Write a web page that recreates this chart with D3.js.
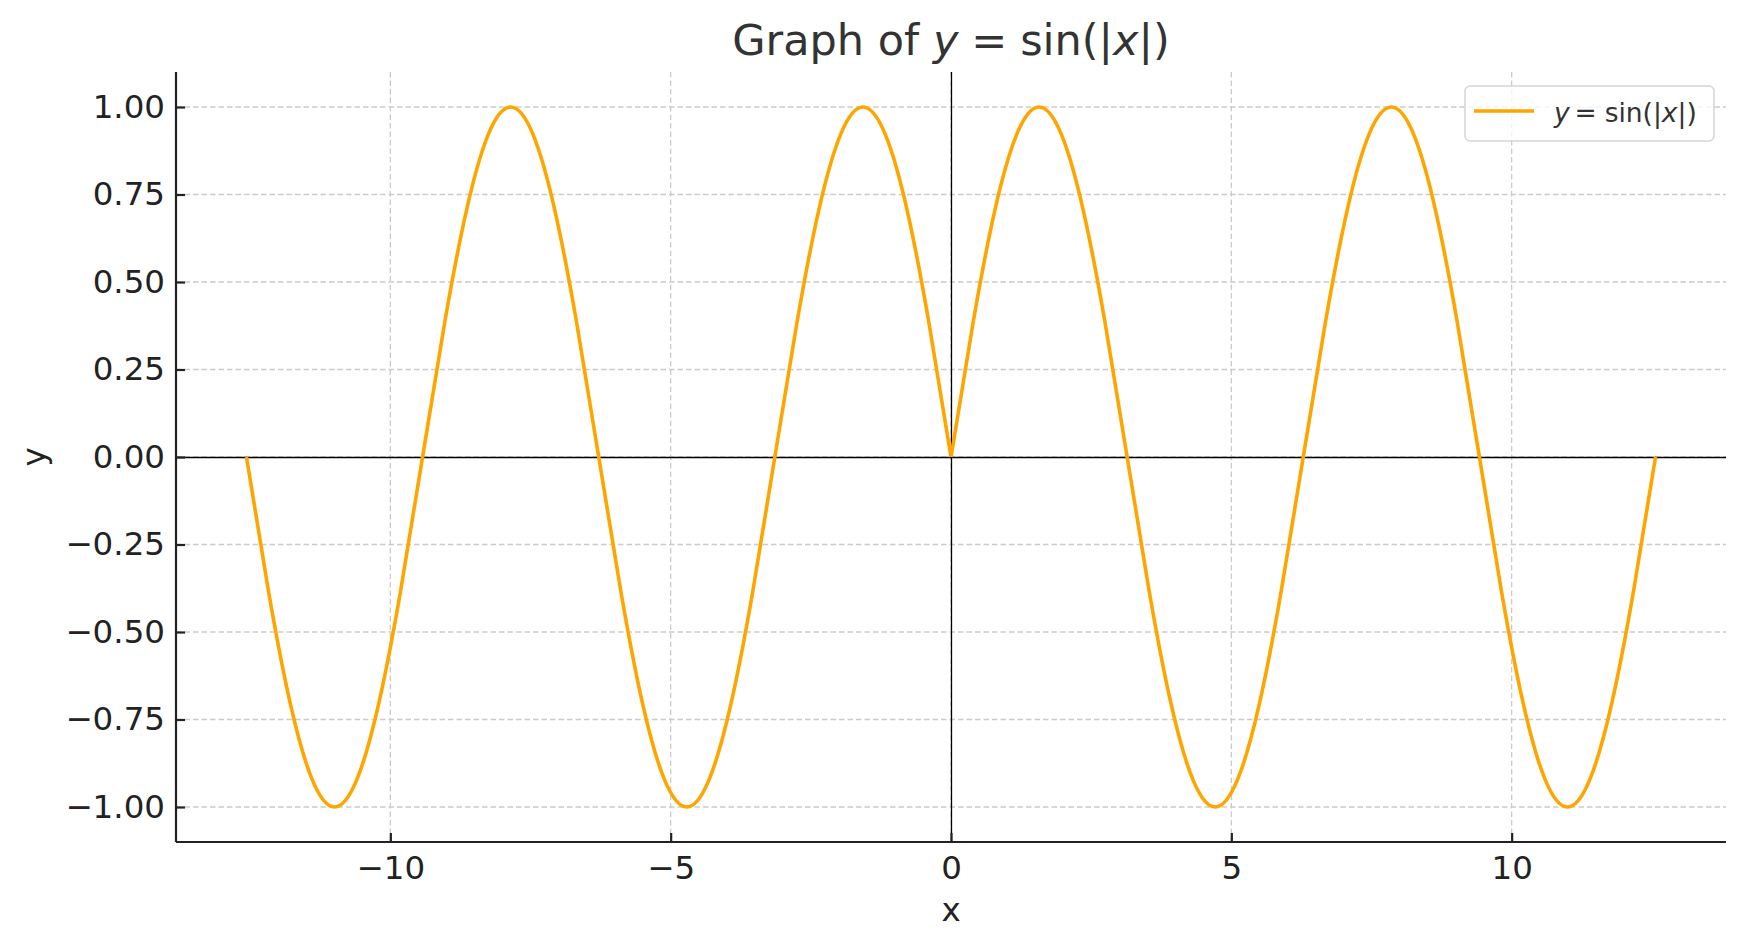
<!DOCTYPE html>
<html>
<head>
<meta charset="utf-8">
<script src="https://cdn.jsdelivr.net/npm/d3@7"></script>
<style>
  html, body { margin: 0; padding: 0; background: #fff; }
  svg { display: block; }
  text { font-family: "DejaVu Sans", sans-serif; }
</style>
</head>
<body>
<svg id="chart" width="1746" height="949"></svg>
<script>
// ---- data ----
const xValues = [
  -12.566, -12.174, -11.781, -11.388, -10.996, -10.603, -10.210, -9.817, -9.425, -9.032, -8.639,
  -8.247, -7.854, -7.461, -7.069, -6.676, -6.283, -5.890, -5.498, -5.105, -4.712, -4.320,
  -3.927, -3.534, -3.142, -2.749, -2.356, -1.963, -1.571, -1.178, -0.785, -0.393,
  0,
  0.393, 0.785, 1.178, 1.571, 1.963, 2.356, 2.749, 3.142, 3.534, 3.927, 4.320,
  4.712, 5.105, 5.498, 5.890, 6.283, 6.676, 7.069, 7.461, 7.854, 8.247, 8.639,
  9.032, 9.425, 9.817, 10.210, 10.603, 10.996, 11.388, 11.781, 12.174, 12.566
];
const yValues = [
  0, -0.383, -0.707, -0.924, -1.000, -0.924, -0.707, -0.383, 0, 0.383, 0.707,
  0.924, 1.000, 0.924, 0.707, 0.383, 0, -0.383, -0.707, -0.924, -1.000, -0.924,
  -0.707, -0.383, 0, 0.383, 0.707, 0.924, 1.000, 0.924, 0.707, 0.383,
  0,
  0.383, 0.707, 0.924, 1.000, 0.924, 0.707, 0.383, 0, -0.383, -0.707, -0.924,
  -1.000, -0.924, -0.707, -0.383, 0, 0.383, 0.707, 0.924, 1.000, 0.924, 0.707,
  0.383, 0, -0.383, -0.707, -0.924, -1.000, -0.924, -0.707, -0.383, 0
];
const xTicks = [-10, -5, 0, 5, 10];
const xTickLabels = ["\u221210", "\u22125", "0", "5", "10"];
const yTicks = [-1.00, -0.75, -0.50, -0.25, 0.00, 0.25, 0.50, 0.75, 1.00];
const yTickLabels = ["\u22121.00", "\u22120.75", "\u22120.50", "\u22120.25", "0.00", "0.25", "0.50", "0.75", "1.00"];
const xDomain = [-13.823, 13.823];
const yDomain = [-1.1, 1.1];

// ---- layout ----
const M = { left: 176, right: 1726, top: 72, bottom: 842 };
const svg = d3.select("#chart");
const x = d3.scaleLinear().domain(xDomain).range([M.left, M.right]);
const y = d3.scaleLinear().domain(yDomain).range([M.bottom, M.top]);

const ORANGE = "#FFA500";
const GRID = "#cbcbcb";
const INK = "#222222";

// grid
const grid = svg.append("g");
grid.selectAll("line.gx").data(xTicks).join("line")
  .attr("x1", d => x(d)).attr("x2", d => x(d))
  .attr("y1", M.top).attr("y2", M.bottom)
  .attr("stroke", GRID).attr("stroke-width", 1.3).attr("stroke-dasharray", "5.5,3");
grid.selectAll("line.gy").data(yTicks).join("line")
  .attr("x1", M.left).attr("x2", M.right)
  .attr("y1", d => y(d)).attr("y2", d => y(d))
  .attr("stroke", GRID).attr("stroke-width", 1.3).attr("stroke-dasharray", "5.5,3");

// zero lines
svg.append("line").attr("x1", M.left).attr("x2", M.right)
  .attr("y1", Math.round(y(0)) + 0.5).attr("y2", Math.round(y(0)) + 0.5)
  .attr("stroke", "#000").attr("stroke-width", 1.3);
svg.append("line").attr("x1", Math.round(x(0)) + 0.5).attr("x2", Math.round(x(0)) + 0.5)
  .attr("y1", M.top).attr("y2", M.bottom).attr("stroke", "#000").attr("stroke-width", 1.3);

// curve: two branches meeting at the cusp x = 0
const pts = xValues.map((v, i) => [v, yValues[i]]);
const left = pts.filter(p => p[0] <= 0);
const right = pts.filter(p => p[0] >= 0);
const line = d3.line().x(d => x(d[0])).y(d => y(d[1])).curve(d3.curveNatural);
[left, right].forEach(branch => {
  svg.append("path").datum(branch).attr("d", line)
    .attr("fill", "none").attr("stroke", ORANGE).attr("stroke-width", 3.6)
    .attr("stroke-linejoin", "round").attr("stroke-linecap", "butt");
});

// axes with inward ticks
const xAxis = d3.axisBottom(x).tickValues(xTicks).tickSize(-9).tickPadding(13)
  .tickFormat((d, i) => xTickLabels[i]);
const yAxis = d3.axisLeft(y).tickValues(yTicks).tickSize(-9).tickPadding(11)
  .tickFormat((d, i) => yTickLabels[i]);

const gx = svg.append("g").attr("transform", `translate(0,${M.bottom})`).call(xAxis);
const gy = svg.append("g").attr("transform", `translate(${M.left},0)`).call(yAxis);
[gx, gy].forEach(g => {
  g.select(".domain").attr("stroke", INK).attr("stroke-width", 2.2);
  g.selectAll(".tick line").attr("stroke", INK).attr("stroke-width", 2.2);
  g.selectAll(".tick text").attr("fill", INK)
    .style("font-family", "'DejaVu Sans', sans-serif").style("font-size", "32.5px");
});
gx.select(".domain").attr("d", `M${M.left},0H${M.right}`);
gy.select(".domain").attr("d", `M0,${M.bottom}V${M.top}`);
gx.selectAll(".tick text").attr("dy", "0.75em");

// axis labels
svg.append("text").attr("x", (M.left + M.right) / 2).attr("y", 921)
  .attr("text-anchor", "middle").attr("fill", INK).style("font-size", "32.5px").text("x");
svg.append("text").attr("transform", `translate(45,${(M.top + M.bottom) / 2}) rotate(-90)`)
  .attr("text-anchor", "middle").attr("fill", INK).style("font-size", "32.5px").text("y");

// title (math-like)
const title = svg.append("text").attr("x", (M.left + M.right) / 2).attr("y", 55)
  .attr("text-anchor", "middle").attr("fill", "#333").style("font-size", "43px");
title.append("tspan").text("Graph of ");
title.append("tspan").style("font-style", "italic").text("y");
title.append("tspan").attr("dx", "0.3em").text("=");
title.append("tspan").attr("dx", "0.3em").text("sin(|");
title.append("tspan").style("font-style", "italic").text("x");
title.append("tspan").text("|)");

// legend
const lg = svg.append("g");
lg.append("rect").attr("x", 1465).attr("y", 86).attr("width", 249).attr("height", 55)
  .attr("rx", 5).attr("fill", "#fff").attr("fill-opacity", 0.8)
  .attr("stroke", "#d5d5d5").attr("stroke-width", 1.5);
lg.append("line").attr("x1", 1474).attr("x2", 1534).attr("y1", 111).attr("y2", 111)
  .attr("stroke", ORANGE).attr("stroke-width", 3.6);
const lt = lg.append("text").attr("x", 1554).attr("y", 122).attr("fill", "#333")
  .style("font-size", "26.5px");
lt.append("tspan").style("font-style", "italic").text("y");
lt.append("tspan").attr("dx", "0.18em").text("=");
lt.append("tspan").attr("dx", "0.3em").text("sin(|");
lt.append("tspan").style("font-style", "italic").text("x");
lt.append("tspan").text("|)");
</script>
</body>
</html>
